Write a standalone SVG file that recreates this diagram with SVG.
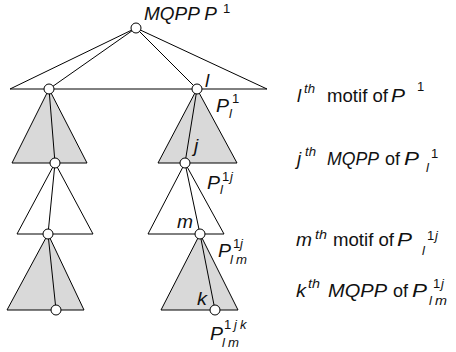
<svg xmlns="http://www.w3.org/2000/svg" width="456" height="352" viewBox="0 0 456 352">
<style>
.tri{stroke:#000;stroke-width:1;stroke-linejoin:miter}
.g{fill:#d9d9d9}
.w{fill:#fff}
.c{stroke:#000;stroke-width:1;fill:none}
.n{fill:#fff;stroke:#000;stroke-width:1}
text{font-family:"Liberation Sans",Arial,sans-serif;fill:#111;font-style:normal}
.i{font-style:italic}
.t{font-size:19px}
.rm{font-size:18.5px}
.s{font-size:13px}
.th{font-size:12px}
</style>
<rect width="456" height="352" fill="#fff"/>
<g id="triangles">
<polygon id="tri-top" class="tri w" points="136,28 10,89 267,89"/>
<polygon id="tri-l1" class="tri g" points="49,89 12,163 87,163"/>
<polygon id="tri-r1" class="tri g" points="197,89 158,163 237,163"/>
<polygon id="tri-l2" class="tri w" points="55,163 17,234 93,234"/>
<polygon id="tri-r2" class="tri w" points="185,163 148,234 224,234"/>
<polygon id="tri-l3" class="tri g" points="48,234 7,310 84,310"/>
<polygon id="tri-r3" class="tri g" points="200,234 161,310 238,310"/>
</g>
<g id="connectors">
<line class="c" x1="136" y1="28" x2="49" y2="89"/>
<line class="c" x1="136" y1="28" x2="197" y2="89"/>
<line class="c" x1="49" y1="89" x2="55" y2="163"/>
<line class="c" x1="197" y1="89" x2="185" y2="163"/>
<line class="c" x1="55" y1="163" x2="48" y2="234"/>
<line class="c" x1="185" y1="163" x2="200" y2="234"/>
<line class="c" x1="48" y1="234" x2="56" y2="310"/>
<line class="c" x1="200" y1="234" x2="215" y2="310"/>
</g>
<g id="node-root"><circle class="n" cx="136" cy="28" r="5"/></g>
<g id="node-l1"><circle class="n" cx="49" cy="89" r="5"/></g>
<g id="node-r1"><circle class="n" cx="197" cy="89" r="5"/></g>
<g id="node-l2"><circle class="n" cx="55" cy="163" r="5"/></g>
<g id="node-r2"><circle class="n" cx="185" cy="163" r="5"/></g>
<g id="node-l3"><circle class="n" cx="48" cy="234" r="5"/></g>
<g id="node-r3"><circle class="n" cx="200" cy="234" r="5"/></g>
<g id="node-l4"><circle class="n" cx="56" cy="310" r="5"/></g>
<g id="node-r4"><circle class="n" cx="215" cy="310" r="5"/></g>
<g id="tree-labels">
<text class="t i" x="144" y="20" textLength="73" lengthAdjust="spacingAndGlyphs">MQPP P</text><text class="s" x="223" y="13">1</text>
<text class="t i" x="205" y="87">l</text>
<text class="t i" x="216" y="112" textLength="13" lengthAdjust="spacingAndGlyphs">P</text><text class="s" x="232" y="103">1</text><text class="s i" x="229" y="118">l</text>
<text class="t i" x="194" y="152">j</text>
<text class="t i" x="207" y="189" textLength="13" lengthAdjust="spacingAndGlyphs">P</text><text class="s" x="222" y="181">1</text><text class="s i" x="230" y="181">j</text><text class="s i" x="220" y="194">l</text>
<text class="t i" x="177" y="228" textLength="16" lengthAdjust="spacingAndGlyphs">m</text>
<text class="t i" x="218" y="257" textLength="13" lengthAdjust="spacingAndGlyphs">P</text><text class="s" x="233" y="248">1</text><text class="s i" x="240" y="248">j</text><text class="s i" x="230" y="264">l</text><text class="s i" x="236" y="264" textLength="11" lengthAdjust="spacingAndGlyphs">m</text>
<text class="t i" x="197" y="305" textLength="10" lengthAdjust="spacingAndGlyphs">k</text>
<text class="t i" x="210" y="340" textLength="13" lengthAdjust="spacingAndGlyphs">P</text><text class="s" x="224" y="329">1</text><text class="s i" x="234" y="329">j</text><text class="s i" x="240" y="329">k</text><text class="s i" x="222" y="347">l</text><text class="s i" x="228" y="347" textLength="11" lengthAdjust="spacingAndGlyphs">m</text>
</g>
<g id="legend">
<text class="rm i" x="297" y="102">l</text><text class="th i" x="304" y="93" textLength="11" lengthAdjust="spacingAndGlyphs">th</text><text class="rm" x="327" y="102" textLength="61" lengthAdjust="spacingAndGlyphs">motif of</text><text class="rm i" x="391" y="102" textLength="14" lengthAdjust="spacingAndGlyphs">P</text><text class="s" x="417" y="91">1</text>
<text class="rm i" x="297" y="165">j</text><text class="th i" x="305" y="156" textLength="11" lengthAdjust="spacingAndGlyphs">th</text><text class="rm i" x="327" y="165" textLength="52" lengthAdjust="spacingAndGlyphs">MQPP</text><text class="rm" x="385" y="165" textLength="15" lengthAdjust="spacingAndGlyphs">of</text><text class="rm i" x="404" y="165" textLength="15" lengthAdjust="spacingAndGlyphs">P</text><text class="s" x="431" y="158">1</text><text class="s i" x="426" y="172">l</text>
<text class="rm i" x="296" y="246" textLength="16" lengthAdjust="spacingAndGlyphs">m</text><text class="th i" x="315" y="239" textLength="12" lengthAdjust="spacingAndGlyphs">th</text><text class="rm" x="333" y="246" textLength="61" lengthAdjust="spacingAndGlyphs">motif of</text><text class="rm i" x="397" y="246" textLength="15" lengthAdjust="spacingAndGlyphs">P</text><text class="s" x="427" y="240">1</text><text class="s i" x="435" y="240">j</text><text class="s i" x="422" y="255">l</text>
<text class="rm i" x="296" y="297" textLength="10" lengthAdjust="spacingAndGlyphs">k</text><text class="th i" x="308" y="288" textLength="12" lengthAdjust="spacingAndGlyphs">th</text><text class="rm i" x="328" y="297" textLength="59" lengthAdjust="spacingAndGlyphs">MQPP</text><text class="rm" x="393" y="297" textLength="15" lengthAdjust="spacingAndGlyphs">of</text><text class="rm i" x="412" y="297" textLength="15" lengthAdjust="spacingAndGlyphs">P</text><text class="s" x="433" y="288">1</text><text class="s i" x="441" y="288">j</text><text class="s i" x="429" y="305">l</text><text class="s i" x="435" y="305" textLength="12" lengthAdjust="spacingAndGlyphs">m</text>
</g>
</svg>
